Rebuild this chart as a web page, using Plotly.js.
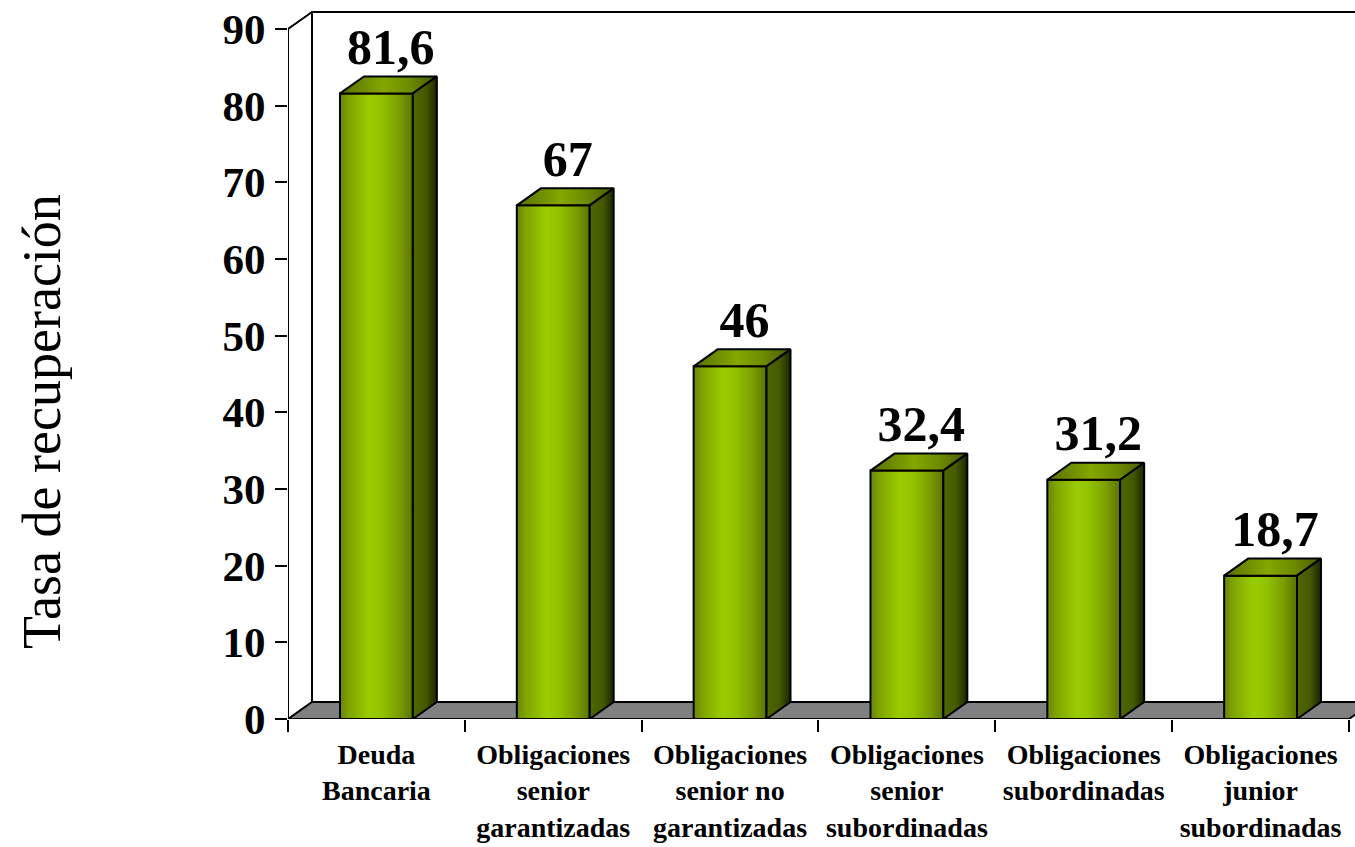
<!DOCTYPE html>
<html>
<head>
<meta charset="utf-8">
<script src="https://cdn.plot.ly/plotly-3.0.1.min.js"></script>
<style>
  html, body { margin: 0; padding: 0; background: #ffffff; }
  #chart { width: 1355px; height: 847px; }
</style>
</head>
<body>
<div id="chart"></div>
<script>
// Recovery rate by debt class
const categories = [
  'Deuda<br>Bancaria',
  'Obligaciones<br>senior<br>garantizadas',
  'Obligaciones<br>senior no<br>garantizadas',
  'Obligaciones<br>senior<br>subordinadas',
  'Obligaciones<br>subordinadas',
  'Obligaciones<br>junior<br>subordinadas'
];
const recoveryRates = [81.6, 67, 46, 32.4, 31.2, 18.7];
const yTicks = [0, 10, 20, 30, 40, 50, 60, 70, 80, 90];
const yAxisTitle = 'Tasa de recuperación';

// 3D look: bar half width and depth offsets, in axis units
const HALF = 0.206;
const DX = 0.1357;
const DY = 2.22;
const YMAX = 90;
const SERIF = '"Liberation Serif", "Times New Roman", Times, serif';

const FRONT_SCALE = [[0, '#67850a'], [0.12, '#7fa300'], [0.4, '#9acc00'], [0.58, '#92c200'], [0.82, '#7a9c00'], [1, '#5a7300']];
const TOP_SCALE = [[0, '#566f00'], [0.45, '#84a700'], [0.72, '#6c8b00'], [1, '#465c00']];
const SIDE_SCALE = [[0, '#4f6900'], [0.55, '#435900'], [1, '#1b2500']];

const idx = categories.map((_, i) => i);
const traces = [];

function poly(xs, ys, opts) {
  return Object.assign({
    type: 'scatter', mode: 'lines', x: xs, y: ys,
    line: { color: '#000000', width: 2 },
    hoverinfo: 'skip', showlegend: false
  }, opts || {});
}

// Floor
const x0 = -0.5, x1 = categories.length - 0.5;
traces.push(poly([x0, x1, x1 + DX, x0 + DX, x0], [0, 0, DY, DY, 0],
  { fill: 'toself', fillcolor: '#808080' }));

// Walls
traces.push(poly([x0 + DX, x0 + DX, x1 + DX + 0.2], [DY, YMAX + DY, YMAX + DY]));
traces.push(poly([x0, x0, x0 + DX], [0, YMAX, YMAX + DY]));

// Bars: front, top and side faces
idx.forEach(i => {
  const v = recoveryRates[i];
  const l = i - HALF, r = i + HALF;
  traces.push(poly([l, r, r, l, l], [0, 0, v, v, 0], {
    fill: 'toself',
    fillgradient: { type: 'horizontal', start: l, stop: r, colorscale: FRONT_SCALE }
  }));
  traces.push(poly([l, r, r + DX, l + DX, l], [v, v, v + DY, v + DY, v], {
    fill: 'toself',
    fillgradient: { type: 'horizontal', start: l, stop: r + DX, colorscale: TOP_SCALE }
  }));
  traces.push(poly([r, r + DX, r + DX, r, r], [0, DY, v + DY, v, 0], {
    fill: 'toself',
    fillgradient: { type: 'horizontal', start: r, stop: r + DX, colorscale: SIDE_SCALE }
  }));
});

// Value labels
traces.push({
  type: 'scatter', mode: 'text',
  x: idx.map(i => i + DX * 0.6),
  y: recoveryRates.map(v => v + DY),
  text: recoveryRates.map(v => String(v).replace('.', ',')),
  textposition: 'top center',
  textfont: { family: SERIF, size: 50, color: '#000000', weight: 'bold' },
  cliponaxis: false, hoverinfo: 'skip', showlegend: false
});

const layout = {
  width: 1355, height: 847,
  margin: { l: 288, r: 0, t: 6, b: 128 },
  paper_bgcolor: '#ffffff', plot_bgcolor: '#ffffff',
  showlegend: false,
  font: { family: SERIF, color: '#000000' },
  xaxis: {
    range: [-0.5, 5.534],
    tickmode: 'array', tickvals: idx, ticktext: categories,
    ticks: '', showgrid: false, zeroline: false, showline: false,
    ticklabelstandoff: 16,
    tickfont: { family: SERIF, size: 28, color: '#000000', weight: 'bold' },
    minor: {
      tickmode: 'array', tickvals: [-0.5, 0.5, 1.5, 2.5, 3.5, 4.5, 5.5],
      ticks: 'outside', ticklen: 12, tickwidth: 2, tickcolor: '#000000', showgrid: false
    },
    fixedrange: true
  },
  yaxis: {
    range: [0, 93],
    tickmode: 'array', tickvals: yTicks,
    ticks: 'outside', ticklen: 12, tickwidth: 2, tickcolor: '#000000',
    ticklabelstandoff: 1,
    showgrid: false, zeroline: false, showline: false,
    tickfont: { family: SERIF, size: 43, color: '#000000', weight: 'bold' },
    fixedrange: true
  },
  annotations: [{
    text: yAxisTitle, textangle: -90, showarrow: false,
    xref: 'paper', yref: 'paper', x: -0.2305, y: 0.4165,
    xanchor: 'center', yanchor: 'middle',
    font: { family: SERIF, size: 54, color: '#000000' }
  }]
};

Plotly.newPlot('chart', traces, layout, { displayModeBar: false, staticPlot: true });
</script>
</body>
</html>
